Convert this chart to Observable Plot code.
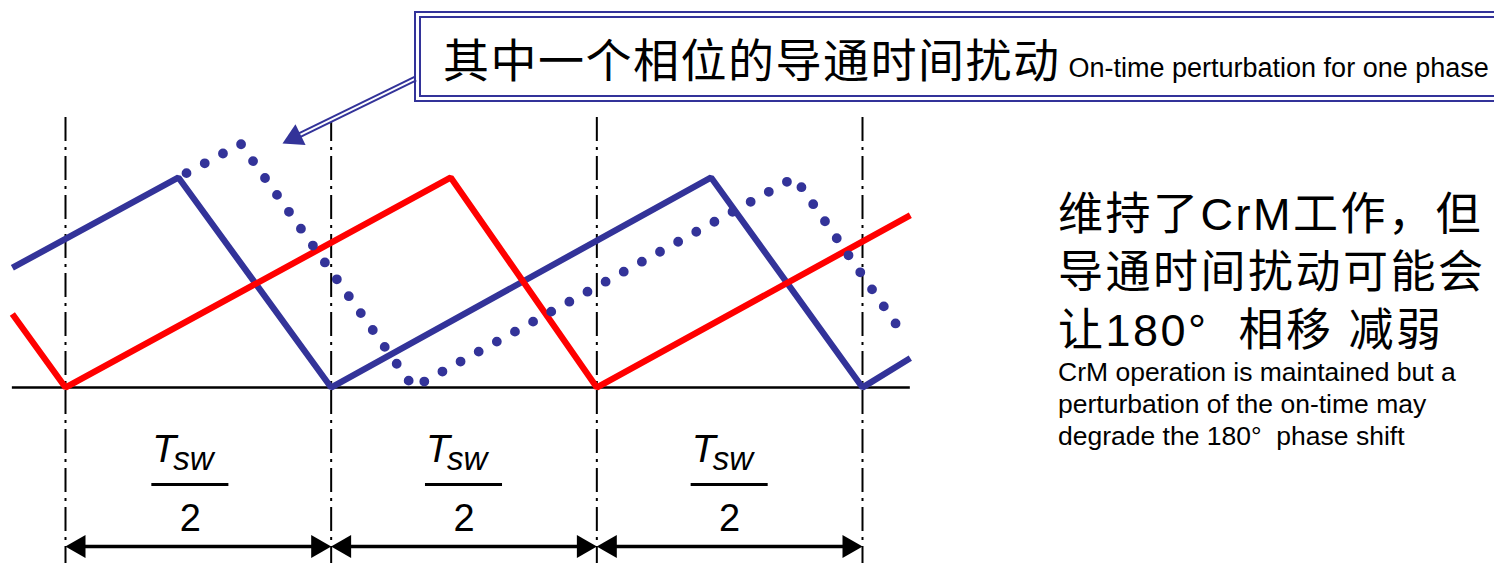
<!DOCTYPE html>
<html>
<head>
<meta charset="utf-8">
<script src="https://cdn.jsdelivr.net/npm/d3@7"></script>
<script src="https://cdn.jsdelivr.net/npm/@observablehq/plot@0.6"></script>
<style>
  html, body { margin: 0; padding: 0; background: #fff; overflow: hidden; }
  #wrap { position: relative; width: 1494px; height: 563px; overflow: hidden; background: #fff;
          font-family: "Liberation Sans", Arial, "Noto Sans CJK SC", sans-serif; color: #000; }
  #chart svg { display: block; }
  .box { position: absolute; left: 414px; top: 11px; width: 1200px; height: 91px;
         border: 7px double #333399; box-sizing: border-box; }
  .title { position: absolute; left: 443px; top: 31px; font-size: 46px; line-height: 60px;
           letter-spacing: 1.5px; white-space: nowrap; }
  .title .en { font-size: 27px; letter-spacing: 0; margin-left: 8px; }
  .note { position: absolute; left: 1058px; font-size: 45px; line-height: 50px;
          letter-spacing: 2.5px; white-space: pre; }
  .noteEn { position: absolute; left: 1058px; font-size: 26.5px; line-height: 30px;
            white-space: pre; }
</style>
</head>
<body>
<div id="wrap">
  <div id="chart"></div>
  <div class="box"></div>
  <div class="title" id="title"></div>
</div>
<script>
// ---- data (time in units of Tsw/2, current normalised to the nominal peak) ----
const halfPeriodMarks = [0, 1, 2, 3];
const intervals = [[0, 1], [1, 2], [2, 3]];
const labelCenters = [0.47, 1.5, 2.5];
const labelNum = "T";
const labelSub = "sw";
const labelDen = "2";

const blueT = [-0.20, 0.425, 1.0, 2.43, 3.0, 3.18];
const blueI = [0.57, 1.0, 0.0, 1.0, 0.0, 0.14];

const redT = [-0.20, 0.0, 1.45, 2.0, 3.18];
const redI = [0.35, 0.0, 1.0, 0.0, 0.82];

const pertT = [0.425, 0.66, 1.31, 2.745, 3.16];
const pertI = [1.0, 1.16, 0.0, 1.0, 0.24];

const baseT = [-0.20, 3.18];

const calloutT = [1.317, 0.862];
const calloutI = [1.471, 1.19];

const titleZh = "其中一个相位的导通时间扰动";
const titleEn = "On-time perturbation for one phase";
const noteZh = ["维持了CrM工作，但", "导通时间扰动可能会", "让180°  相移 减弱"];
const noteEn = ["CrM operation is maintained but a", "perturbation of the on-time may", "degrade the 180°  phase shift"];

// ---- drawing ----
const blue = "#333399", red = "#ff0000";
const font = "'Liberation Sans', Arial, sans-serif";
const H = 0.05;            // arrow-head centroid offset (time units)
const yArrow = -0.757, yT = -0.357, ySub = -0.395, yBar = -0.462, yDen = -0.681;
const rulesTop = 1.286, rulesBottom = -0.84;

const pts = (T, I) => T.map((t, k) => ({t, i: I[k]}));
const heads = intervals.flatMap(([a, b]) => [{t: a + H, rot: 270}, {t: b - H, rot: 90}]);
const callout = pts(calloutT, calloutI);

const chart = Plot.plot({
  width: 1494, height: 563, margin: 0,
  x: {domain: [0, 3], range: [65, 862], axis: null},
  y: {domain: [0, 1], range: [387, 177], axis: null},
  style: {background: "white", overflow: "visible"},
  marks: [
    Plot.ruleY([0], {x1: baseT[0], x2: baseT[1], stroke: "black", strokeWidth: 2.5}),
    Plot.ruleX(halfPeriodMarks, {y1: rulesTop, y2: rulesBottom, stroke: "black", strokeWidth: 2, strokeDasharray: "24,6,3,6"}),
    Plot.line(pts(blueT, blueI), {x: "t", y: "i", stroke: blue, strokeWidth: 6.3, strokeLinejoin: "miter", strokeLinecap: "butt"}),
    Plot.line(pts(redT, redI), {x: "t", y: "i", stroke: red, strokeWidth: 6.3, strokeLinejoin: "miter", strokeLinecap: "butt"}),
    Plot.line(pts(pertT, pertI), {x: "t", y: "i", stroke: blue, strokeWidth: 9.8, strokeDasharray: "0,20.7", strokeDashoffset: 11.5, strokeLinecap: "round", strokeLinejoin: "round"}),
    Plot.line(callout, {x: "t", y: "i", stroke: blue, strokeWidth: 6, strokeLinecap: "butt"}),
    Plot.line(callout, {x: "t", y: "i", stroke: "white", strokeWidth: 2, strokeLinecap: "butt"}),
    Plot.dot([callout[1]], {x: "t", y: "i", symbol: "triangle", r: 8.6, fill: blue, rotate: 244.15}),
    Plot.ruleY(intervals, {x1: d => d[0] + H, x2: d => d[1] - H, y: yArrow, stroke: "black", strokeWidth: 3.5}),
    Plot.dot(heads, {x: "t", y: yArrow, rotate: "rot", symbol: "triangle", r: 8.6, fill: "black"}),
    Plot.text(labelCenters, {x: d => d, y: yT, text: () => labelNum, fontSize: 39, fontStyle: "italic", fontFamily: font, textAnchor: "start", dx: -38, lineAnchor: "bottom", fill: "black"}),
    Plot.text(labelCenters, {x: d => d, y: ySub, text: () => labelSub, fontSize: 33, fontStyle: "italic", fontFamily: font, textAnchor: "start", dx: -17, lineAnchor: "bottom", fill: "black"}),
    Plot.ruleY(labelCenters, {x1: d => d - 0.145, x2: d => d + 0.145, y: yBar, stroke: "black", strokeWidth: 3}),
    Plot.text(labelCenters, {x: d => d, y: yDen, text: () => labelDen, fontSize: 38, fontFamily: font, textAnchor: "middle", lineAnchor: "bottom", fill: "black"})
  ]
});
document.getElementById("chart").appendChild(chart);

const wrap = document.getElementById("wrap");
const esc = s => s.replace(/&/g, "&amp;").replace(/</g, "&lt;");
document.getElementById("title").innerHTML = esc(titleZh) + '<span class="en">' + esc(titleEn) + '</span>';
// one element per line, baselines at 230 / 288 / 346 and 380 / 412 / 444 px
noteZh.forEach((line, k) => {
  const d = document.createElement("div");
  d.className = "note";
  d.style.top = (186 + 58 * k + 4) + "px";
  d.textContent = line;
  wrap.appendChild(d);
});
noteEn.forEach((line, k) => {
  const d = document.createElement("div");
  d.className = "noteEn";
  d.style.top = (356 + 32 * k + 1) + "px";
  d.textContent = line;
  wrap.appendChild(d);
});
</script>
</body>
</html>
